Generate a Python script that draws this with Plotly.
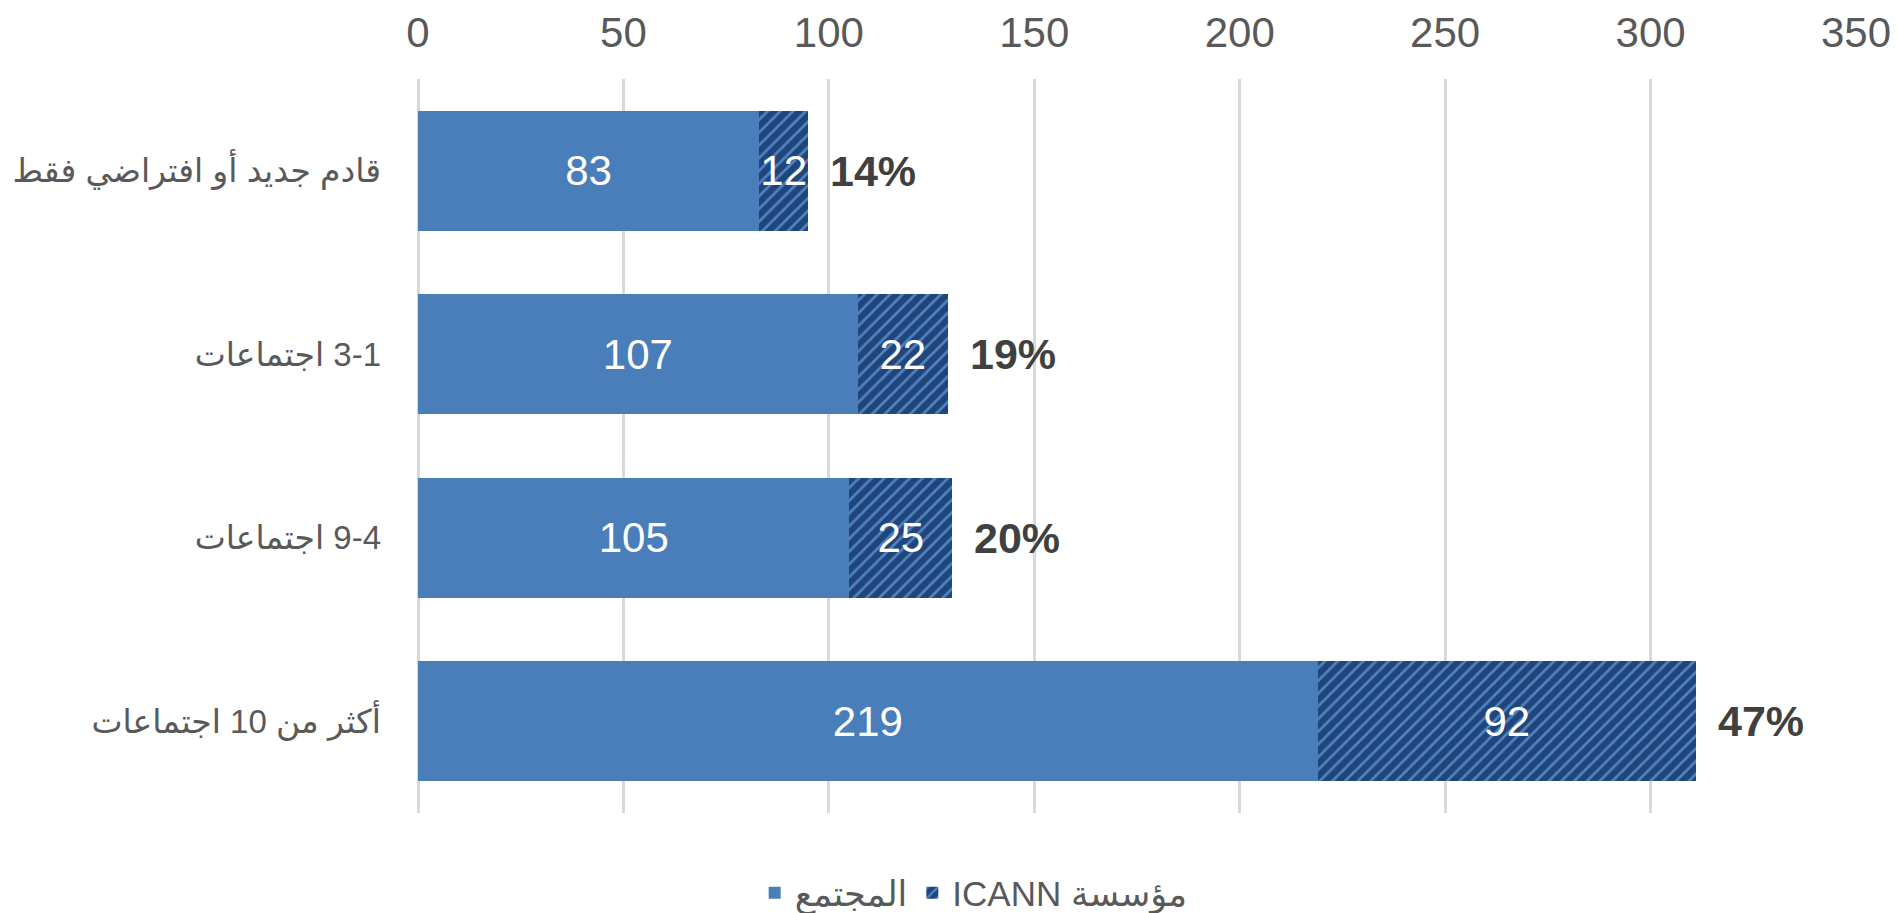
import plotly.graph_objects as go

RLE = "\u202b"
PDF = "\u202c"

categories = [
    "قادم جديد أو افتراضي فقط",
    "3-1 اجتماعات",
    "9-4 اجتماعات",
    "أكثر من 10 اجتماعات",
]
community = [83, 107, 105, 219]
icann = [12, 22, 25, 92]
pct_labels = ["14%", "19%", "20%", "47%"]
series_names = ["المجتمع", "مؤسسة ICANN"]
x_ticks = [0, 50, 100, 150, 200, 250, 300, 350]

cat_labels = [RLE + c + PDF for c in categories]
totals = [a + b for a, b in zip(community, icann)]

FONT = "Liberation Sans, Arial, DejaVu Sans, sans-serif"

fig = go.Figure()
fig.add_trace(go.Bar(
    y=cat_labels, x=community, orientation="h",
    name=RLE + series_names[0] + PDF,
    marker=dict(color="#4A7EBB", line=dict(width=0)),
    text=[str(v) for v in community], textposition="inside",
    insidetextanchor="middle",
    textfont=dict(color="white", size=42, family=FONT),
    hoverinfo="skip",
))
fig.add_trace(go.Bar(
    y=cat_labels, x=icann, orientation="h",
    name=RLE + series_names[1] + PDF,
    marker=dict(
        color="#1F497D",
        line=dict(width=0),
        pattern=dict(shape="/", fgcolor="#5083C0", bgcolor="#1F457A",
                     size=9, solidity=0.3, fillmode="replace"),
    ),
    text=[str(v) for v in icann], textposition="inside",
    insidetextanchor="middle",
    textfont=dict(color="white", size=42, family=FONT),
    hoverinfo="skip",
))

for c, t, p in zip(cat_labels, totals, pct_labels):
    fig.add_annotation(
        x=t, y=c, text=p, showarrow=False, xanchor="left", xshift=20,
        font=dict(size=43, color="#404040", family=FONT, weight="bold"),
    )

fig.update_layout(
    barmode="stack",
    bargap=0.346,
    width=1898, height=913,
    margin=dict(l=418, r=42, t=79, b=100, autoexpand=False),
    paper_bgcolor="white", plot_bgcolor="white",
    font=dict(family=FONT, color="#595959"),
    uniformtext=dict(mode="show", minsize=42),
    showlegend=True,
    legend=dict(
        orientation="h", xref="container", yref="paper",
        x=0.513, y=-0.109, xanchor="center", yanchor="middle",
        font=dict(size=35, color="#595959", family=FONT),
        itemwidth=30, traceorder="normal",
    ),
    xaxis=dict(
        side="top", range=[0, 350], tickvals=x_ticks,
        showgrid=True, gridcolor="#D9D9D9", gridwidth=2.5,
        zeroline=True, zerolinecolor="#D9D9D9", zerolinewidth=2.5,
        showline=False, ticks="", automargin=False,
        tickfont=dict(size=42, color="#595959", family=FONT),
        ticklabelstandoff=23,
    ),
    yaxis=dict(
        autorange="reversed", showgrid=False, showline=False, ticks="",
        automargin=False,
        tickfont=dict(size=33, color="#595959", family=FONT),
        ticklabelstandoff=36,
    ),
)

fig.write_html(
    "out.html",
    config={"displayModeBar": False},
    post_script="document.body.style.margin='0';document.body.style.overflow='hidden';",
)
